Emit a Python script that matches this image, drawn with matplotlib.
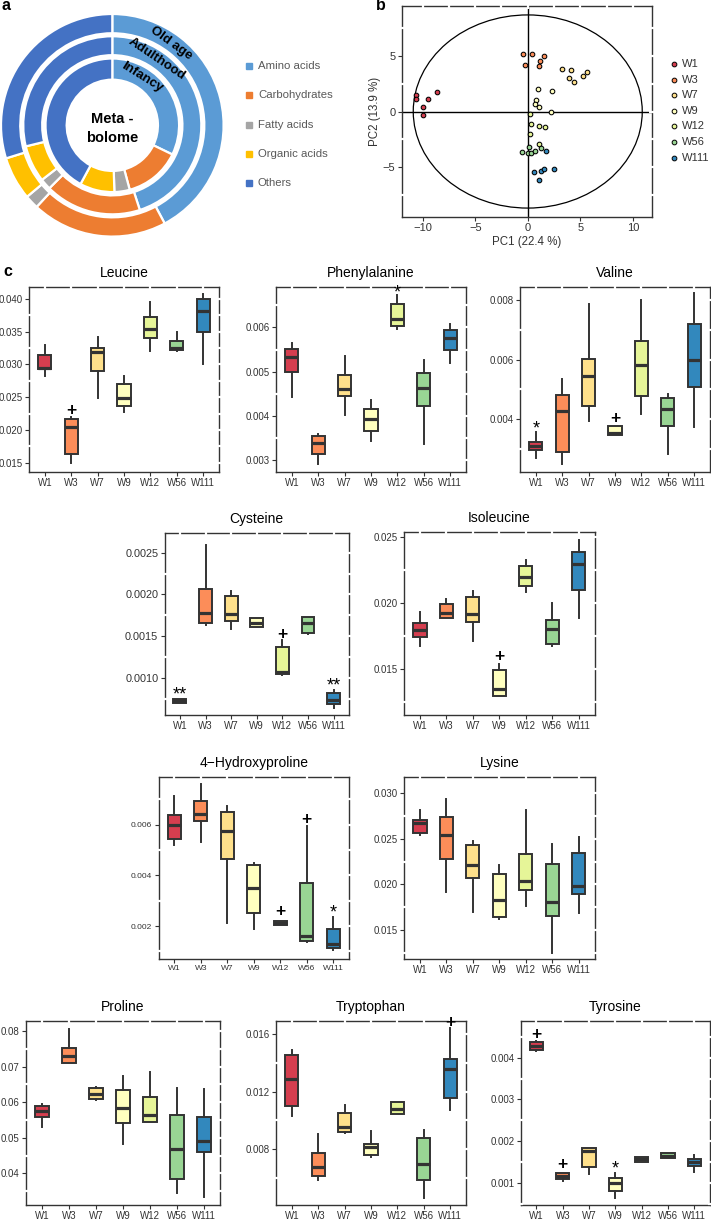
import numpy as np
import matplotlib.pyplot as plt
from matplotlib.patches import Ellipse
from matplotlib.ticker import FormatStrFormatter

plt.rcParams['font.family'] = ['Liberation Sans', 'DejaVu Sans']

# ---------------- data ----------------
# a: composition of the metabolome (percent of compounds)
classes = ['Amino acids', 'Carbohydrates', 'Fatty acids', 'Organic acids', 'Others']
class_colors = ['#5b9bd5', '#ed7d31', '#a5a5a5', '#ffc000', '#4472c4']
infancy = [32.2, 13.6, 3.7, 8.4, 42.1]
adulthood = [45.0, 17.5, 2.0, 6.7, 28.8]
old_age = [42.2, 19.7, 2.0, 6.3, 29.8]
stages = ['Infancy', 'Adulthood', 'Old age']

# b: PCA scores
groups = ['W1', 'W3', 'W7', 'W9', 'W12', 'W56', 'W111']
group_colors = ['#d53e4f', '#fc8d59', '#fee08b', '#ffffbf', '#e6f598', '#99d594', '#3288bd']
pc1 = [
    [-10.67, -10.6, -9.46, -8.67, -9.94, -9.94],
    [-0.48, 0.41, 1.52, -0.25, 1.17, 1.05],
    [3.30, 4.16, 3.97, 4.44, 5.24, 5.62],
    [0.98, 2.35, 0.79, 0.67, 1.05, 2.19],
    [0.25, 0.35, 1.11, 1.65, 0.19, 1.05],
    [1.27, 0.13, -0.57, 0.0, 0.32, 0.73],
    [0.63, 1.27, 1.52, 2.54, 1.08, 1.71],
]
pc2 = [
    [1.49, 1.1, 1.13, 1.76, 0.39, -0.33],
    [5.13, 5.13, 4.93, 4.18, 4.48, 4.12],
    [3.85, 3.73, 3.01, 2.60, 3.22, 3.55],
    [2.03, 1.88, 0.99, 0.63, 0.39, -0.06],
    [-0.21, -1.13, -1.28, -1.37, -2.06, -2.9],
    [-3.31, -3.22, -3.67, -3.73, -3.76, -3.58],
    [-5.43, -5.31, -5.19, -5.13, -6.12, -3.58],
]
pc1_label = 'PC1 (22.4 %)'
pc2_label = 'PC2 (13.9 %)'
t2_pc1, t2_pc2 = 10.9, 8.65   # Hotelling ellipse half axes

# c: box statistics per group  [whisker low, q1, median, q3, whisker high]
leucine = [
    [0.02823, 0.0293, 0.0295, 0.03139, 0.03296],
    [0.0149, 0.01632, 0.0205, 0.02162, 0.02192],
    [0.02482, 0.0290, 0.03184, 0.03256, 0.03424],
    [0.02268, 0.0236, 0.02492, 0.02701, 0.02823],
    [0.0321, 0.03398, 0.03541, 0.03729, 0.03958],
    [0.0321, 0.03215, 0.03246, 0.03352, 0.0350],
    [0.0300, 0.0349, 0.03821, 0.03999, 0.0408],
]
leucine_marks = [(1, '+', 0.0230)]

phenylalanine = [
    [0.004433, 0.004983, 0.005337, 0.005503, 0.005638],
    [0.00291, 0.003137, 0.003393, 0.003551, 0.003589],
    [0.004018, 0.004463, 0.004621, 0.004922, 0.005352],
    [0.003438, 0.003671, 0.003928, 0.004169, 0.004372],
    [0.005955, 0.00603, 0.00618, 0.00652, 0.00673],
    [0.003378, 0.004237, 0.004644, 0.004975, 0.005262],
    [0.005186, 0.005488, 0.005751, 0.005947, 0.006075],
]
phenylalanine_marks = [(4, '*', 0.00682)]

valine = [
    [0.0027, 0.002983, 0.003096, 0.003232, 0.00357],
    [0.002497, 0.002915, 0.004294, 0.004802, 0.005345],
    [0.003944, 0.004429, 0.005458, 0.006034, 0.007864],
    [0.00348, 0.00348, 0.003548, 0.003763, 0.003763],
    [0.004192, 0.004791, 0.005808, 0.006621, 0.008],
    [0.002836, 0.003774, 0.004328, 0.004723, 0.004836],
    [0.00374, 0.005073, 0.006, 0.007209, 0.00824],
]
valine_marks = [(0, '*', 0.00374), (3, '+', 0.004022)]

cysteine = [
    [0.0007, 0.0007, 0.00072, 0.00074, 0.00074],
    [0.001632, 0.00166, 0.001772, 0.002064, 0.002592],
    [0.00158, 0.001676, 0.00176, 0.00198, 0.002036],
    [0.001604, 0.001612, 0.00166, 0.001712, 0.00172],
    [0.001032, 0.001044, 0.001072, 0.001364, 0.001452],
    [0.001524, 0.00154, 0.001652, 0.001724, 0.001732],
    [0.000632, 0.00068, 0.000732, 0.000812, 0.000852],
]
cysteine_marks = [(0, '**', 0.000812), (4, '+', 0.00152), (6, '**', 0.00092)]

isoleucine = [
    [0.01676, 0.01744, 0.0179, 0.01845, 0.01928],
    [0.01883, 0.01883, 0.01921, 0.01991, 0.02029],
    [0.01714, 0.01853, 0.01913, 0.02042, 0.0209],
    [0.01291, 0.01296, 0.01346, 0.01492, 0.01538],
    [0.02079, 0.0213, 0.02198, 0.02281, 0.02324],
    [0.01674, 0.01689, 0.01802, 0.0187, 0.01996],
    [0.01883, 0.02097, 0.02293, 0.02387, 0.02475],
]
isoleucine_marks = [(3, '+', 0.01593)]

hydroxyproline = [
    [0.005213, 0.005449, 0.005987, 0.006393, 0.007154],
    [0.005305, 0.006157, 0.006446, 0.006944, 0.0076],
    [0.002105, 0.004662, 0.005764, 0.006525, 0.006748],
    [0.001895, 0.002525, 0.003495, 0.004426, 0.004492],
    [0.00204, 0.00204, 0.002118, 0.002197, 0.002197],
    [0.00137, 0.00141, 0.001607, 0.003705, 0.005934],
    [0.00105, 0.00112, 0.00128, 0.0019, 0.00235],
]
hydroxyproline_marks = [(4, '+', 0.002564), (5, '+', 0.006223), (6, '*', 0.00259)]

lysine = [
    [0.02543, 0.02561, 0.02671, 0.02707, 0.02817],
    [0.01921, 0.02276, 0.02543, 0.02737, 0.02934],
    [0.01701, 0.02074, 0.02213, 0.02433, 0.02477],
    [0.01617, 0.01646, 0.01829, 0.02115, 0.02213],
    [0.01767, 0.01939, 0.02041, 0.0233, 0.02817],
    [0.0125, 0.01654, 0.01804, 0.02224, 0.02444],
    [0.01683, 0.01891, 0.01983, 0.02349, 0.02517],
]
lysine_marks = []

proline = [
    [0.05311, 0.05592, 0.05752, 0.05902, 0.05939],
    [0.07091, 0.07091, 0.07307, 0.07513, 0.08056],
    [0.06061, 0.0608, 0.06229, 0.06389, 0.06417],
    [0.04815, 0.05424, 0.05845, 0.06342, 0.06735],
    [0.05433, 0.05433, 0.05639, 0.06155, 0.06848],
    [0.03438, 0.03841, 0.04684, 0.0563, 0.06407],
    [0.03325, 0.04609, 0.04918, 0.05574, 0.06361],
]
proline_marks = []

tryptophan = [
    [0.01031, 0.01103, 0.01286, 0.01454, 0.01489],
    [0.00587, 0.00615, 0.0068, 0.00772, 0.00906],
    [0.00911, 0.00918, 0.009573, 0.0105, 0.01108],
    [0.00745, 0.00761, 0.00814, 0.00835, 0.0093],
    [0.01045, 0.01045, 0.0108, 0.01126, 0.01126],
    [0.004648, 0.00587, 0.00696, 0.00881, 0.00934],
    [0.01073, 0.01154, 0.01355, 0.01424, 0.01639],
]
tryptophan_marks = [(6, '+', 0.01679)]

tyrosine = [
    [0.004168, 0.004184, 0.00428, 0.004368, 0.004392],
    [0.00104, 0.001088, 0.00116, 0.001224, 0.00124],
    [0.0012, 0.001368, 0.001768, 0.001824, 0.00184],
    [0.00064, 0.000808, 0.000984, 0.001104, 0.001224],
    [0.001504, 0.001504, 0.00156, 0.001608, 0.001608],
    [0.001584, 0.001584, 0.001648, 0.001704, 0.001704],
    [0.001248, 0.0014, 0.001504, 0.00156, 0.001664],
]
tyrosine_marks = [(0, '+', 0.004544), (1, '+', 0.001424), (3, '*', 0.001384)]

# ---------------- figure ----------------
W, H = 711, 1219
fig = plt.figure(figsize=(W / 100, H / 100), dpi=100)
dark = '#333333'


def px_axes(l, t, r, b):
    return fig.add_axes([l / W, 1 - b / H, (r - l) / W, (b - t) / H])


def style_axes(ax, wpx, hpx, xgrid, ymaj, ymin):
    # ggplot-like frame: white grid lines cut through the top/right border
    for s in ax.spines.values():
        s.set_color(dark)
        s.set_linewidth(1.0)
    dy = 2.5 / hpx
    dx = 2.5 / wpx
    kw = dict(color='white', lw=1.6, clip_on=False, zorder=3, solid_capstyle='butt')
    for x in xgrid:
        ax.plot([x, x], [1 - dy, 1 + dy], transform=ax.get_xaxis_transform(), **kw)
    for y in list(ymaj) + list(ymin):
        ax.plot([1 - dx, 1 + dx], [y, y], transform=ax.get_yaxis_transform(), **kw)
    for y in ymin:
        ax.plot([-dx, dx], [y, y], transform=ax.get_yaxis_transform(), **kw)
    ax.tick_params(colors=dark, labelcolor=dark, length=3, width=0.8, pad=1.5)


ov = fig.add_axes([0, 0, 1, 1], zorder=10)
ov.set_xlim(0, W)
ov.set_ylim(H, 0)
ov.axis('off')

# ---- panel a: donut
cx, cy, R = 112.3, 125.3, 111.3
pad = 1.04
axa = px_axes(cx - R * pad, cy - R * pad, cx + R * pad, cy + R * pad)
rings = [(old_age, 1.0, 0.173), (adulthood, 0.80, 0.17), (infancy, 0.60, 0.19)]
for vals, rad, wid in rings:
    axa.pie(vals, radius=rad, startangle=90, counterclock=False, colors=class_colors,
            wedgeprops=dict(width=wid, edgecolor='white', linewidth=1.6))
axa.set_xlim(-pad, pad)
axa.set_ylim(-pad, pad)
axa.set_aspect('equal')
for lab, r, ang in [('Old age', 0.91, 35.7), ('Adulthood', 0.715, 34.0), ('Infancy', 0.505, 32.0)]:
    th = np.deg2rad(ang)
    axa.text(r * np.sin(th), r * np.cos(th), lab, rotation=-ang, rotation_mode='anchor',
             ha='center', va='center', fontsize=9.5, fontweight='bold')
axa.text(0, -0.03, 'Meta -\nbolome', ha='center', va='center', fontsize=10.5,
         fontweight='bold', linespacing=1.45)

for i, (lab, col) in enumerate(zip(classes, class_colors)):
    y = 66 + i * 29.3
    ov.plot(249, y, 's', ms=4.2, color=col)
    ov.text(258, y, lab, fontsize=8.2, color='#595959', va='center', ha='left')

ov.text(1, 6, 'a', fontsize=11.5, fontweight='bold', va='center')
ov.text(376, 6, 'b', fontsize=11.5, fontweight='bold', va='center')
ov.text(3, 272, 'c', fontsize=11.5, fontweight='bold', va='center')

# ---- panel b: PCA
bl, bt, br, bb = 401.7, 6, 651.7, 217
axb = px_axes(bl, bt, br, bb)
for i in range(len(groups)):
    axb.scatter(pc1[i], pc2[i], s=11, color=group_colors[i], edgecolors='black',
                linewidths=0.75, zorder=3)
axb.axhline(0, color='black', lw=1.0, zorder=2)
axb.axvline(0, color='black', lw=1.0, zorder=2)
axb.add_patch(Ellipse((0, 0), 2 * t2_pc1, 2 * t2_pc2, fill=False, edgecolor='black', lw=0.9))
axb.set_xlim(-12, 11.8)
axb.set_ylim(-9.45, 9.45)
axb.set_xticks([-10, -5, 0, 5, 10])
axb.set_yticks([-5, 0, 5])
style_axes(axb, br - bl, bb - bt, [-10, -7.5, -5, -2.5, 0, 2.5, 5, 7.5, 10],
           [-5, 0, 5], [-7.5, -2.5, 2.5, 7.5])
axb.tick_params(labelsize=8)
axb.set_xlabel(pc1_label, fontsize=8.3, labelpad=2, color=dark)
axb.set_ylabel(pc2_label, fontsize=8.3, labelpad=1, color=dark)
for i, (g, col) in enumerate(zip(groups, group_colors)):
    y = 64 + i * 15.6
    ov.plot(674, y, 'o', ms=3.4, color=col, mec='black', mew=0.7)
    ov.text(682, y, g, fontsize=8, color=dark, va='center', ha='left')

# ---- panel c: box plots
panels = [
    ('Leucine', leucine, leucine_marks, (29, 287, 219, 472), (0.01358, 0.04182), 0.005, '%.3f', 7),
    ('Phenylalanine', phenylalanine, phenylalanine_marks, (276, 287, 466, 472), (0.00274, 0.00691), 0.001, '%.3f', 7),
    ('Valine', valine, valine_marks, (520, 287, 710, 472), (0.00223, 0.00844), 0.002, '%.3f', 7),
    ('Cysteine', cysteine, cysteine_marks, (164.5, 532.7, 349, 715), (0.000552, 0.00274), 0.0005, '%.4f', 7.8),
    ('Isoleucine', isoleucine, isoleucine_marks, (404, 531.7, 594.6, 715), (0.0115, 0.02538), 0.005, '%.3f', 7),
    ('4\u2212Hydroxyproline', hydroxyproline, hydroxyproline_marks, (158.5, 776.7, 349, 959), (0.0007, 0.0079), 0.002, '%.3f', 6),
    ('Lysine', lysine, lysine_marks, (404, 776.7, 594.6, 959), (0.01182, 0.03182), 0.005, '%.3f', 7),
    ('Proline', proline, proline_marks, (26, 1021, 220, 1205), (0.0311, 0.0828), 0.01, '%.2f', 7),
    ('Tryptophan', tryptophan, tryptophan_marks, (276, 1021, 466, 1205), (0.004139, 0.0169), 0.004, '%.3f', 7),
    ('Tyrosine', tyrosine, tyrosine_marks, (520.7, 1021, 710, 1205), (0.000464, 0.00488), 0.001, '%.3f', 7),
]
pos = np.arange(1, len(groups) + 1)
for title, data, marks, (l, t, r, b), ylim, step, fmt, fs in panels:
    ax = px_axes(l, t, r, b)
    stats = [dict(whislo=d[0], q1=d[1], med=d[2], q3=d[3], whishi=d[4], fliers=[]) for d in data]
    bp = ax.bxp(stats, positions=pos, widths=0.5, patch_artist=True, showcaps=False,
                showfliers=False,
                boxprops=dict(edgecolor=dark, linewidth=1.4),
                medianprops=dict(color=dark, linewidth=2.3, solid_capstyle='butt'),
                whiskerprops=dict(color=dark, linewidth=1.4))
    for patch, col in zip(bp['boxes'], group_colors):
        patch.set_facecolor(col)
    for gi, sym, val in marks:
        if sym == '+':
            ax.text(pos[gi], val, sym, ha='center', va='center', fontsize=12.5,
                    fontweight='bold', color='black', clip_on=False, zorder=6)
        else:
            ax.text(pos[gi], val, sym, ha='center', va='center_baseline', fontsize=13,
                    color='black', clip_on=False, zorder=6)
    ax.set_xlim(0.4, 7.6)
    ax.set_ylim(*ylim)
    ymaj = np.arange(np.ceil(ylim[0] / step) * step, ylim[1], step)
    ymin = np.arange(np.floor(ylim[0] / step) * step + step / 2, ylim[1], step)
    ymin = ymin[(ymin > ylim[0]) & (ymin < ylim[1])]
    ax.set_yticks(ymaj)
    ax.yaxis.set_major_formatter(FormatStrFormatter(fmt))
    ax.set_xticks(pos)
    ax.set_xticklabels(groups)
    style_axes(ax, r - l, b - t, pos, ymaj, ymin)
    ax.tick_params(axis='y', labelsize=fs)
    ax.tick_params(axis='x', labelsize=6 if fs == 6 else 7)
    ov.text((l + r) / 2, t - 14, title, ha='center', va='center', fontsize=10, color='black')

fig.savefig('out.png', dpi=100)
